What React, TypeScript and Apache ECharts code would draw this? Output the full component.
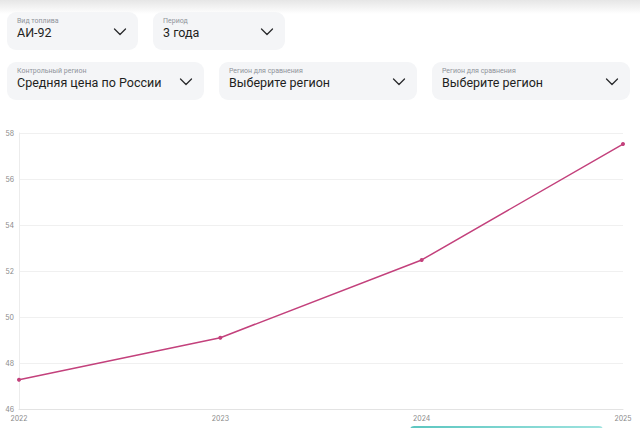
import React, { useEffect, useRef } from "react";
import * as echarts from "echarts";

const years = ["2022", "2023", "2024", "2025"];
const prices = [47.27, 49.1, 52.48, 57.52];
const yTicks = { min: 46, max: 58, interval: 2 };

const dropdowns = [
  { label: "Вид топлива", value: "АИ-92", left: 7, top: 12, width: 131 },
  { label: "Период", value: "3 года", left: 153, top: 12, width: 132 },
  { label: "Контрольный регион", value: "Средняя цена по России", left: 7, top: 62, width: 197 },
  { label: "Регион для сравнения", value: "Выберите регион", left: 219, top: 62, width: 198 },
  { label: "Регион для сравнения", value: "Выберите регион", left: 432, top: 62, width: 198 },
];

const FONT = "Inter, 'Noto Sans', sans-serif";
const VALUE_FONT = "Roboto, 'Noto Sans', sans-serif";

function Dropdown({ d }: { d: (typeof dropdowns)[number] }) {
  return (
    <div
      style={{
        position: "absolute",
        left: d.left,
        top: d.top,
        width: d.width,
        height: 38,
        background: "#f4f5f7",
        borderRadius: 9,
        fontFamily: FONT,
      }}
    >
      <div style={{ position: "absolute", left: 10, top: 5, fontSize: 7, fontFamily: VALUE_FONT, color: "#8f939a", lineHeight: "9px", whiteSpace: "nowrap" }}>
        {d.label}
      </div>
      <div style={{ position: "absolute", left: 10, top: 12, fontSize: 12.5, fontFamily: VALUE_FONT, color: "#1e1f22", lineHeight: "18px", whiteSpace: "nowrap" }}>
        {d.value}
      </div>
      <svg
        width={14}
        height={10}
        style={{ position: "absolute", right: 11, top: 15 }}
        viewBox="0 0 14 10"
      >
        <polyline points="1.5,2 7,7.5 12.5,2" fill="none" stroke="#2a2b2e" strokeWidth={1.3} strokeLinecap="round" strokeLinejoin="round" />
      </svg>
    </div>
  );
}

export default function App() {
  const ref = useRef<HTMLDivElement>(null);
  useEffect(() => {
    if (!ref.current) return;
    const chart = echarts.init(ref.current, undefined, { renderer: "svg" });
    chart.setOption({
      animation: false,
      grid: { left: 19, right: 17, top: 133, bottom: 19, containLabel: false },
      xAxis: {
        type: "category",
        data: years,
        boundaryGap: false,
        axisLine: { show: true, lineStyle: { color: "#e3e3e3" } },
        axisTick: { show: false },
        axisLabel: { color: "#8a8a8a", fontSize: 7, margin: 6, fontFamily: FONT },
        splitLine: { show: false },
      },
      yAxis: {
        type: "value",
        min: yTicks.min,
        max: yTicks.max,
        interval: yTicks.interval,
        axisLine: { show: true, lineStyle: { color: "#ececec" } },
        axisTick: { show: false },
        axisLabel: { color: "#8a8a8a", fontSize: 7, margin: 5, fontFamily: FONT },
        splitLine: { show: true, lineStyle: { color: "#f0f0f0" } },
      },
      series: [
        {
          type: "line",
          data: prices,
          symbol: "circle",
          symbolSize: 4,
          lineStyle: { color: "#c3417c", width: 1.5 },
          itemStyle: { color: "#c3417c" },
        },
      ],
    });
    return () => chart.dispose();
  }, []);

  return (
    <div style={{ position: "absolute", left: 0, top: 0, width: 640, height: 428, overflow: "hidden", background: "#fff" }}>
      <div
        style={{
          position: "absolute",
          left: 0,
          top: 0,
          width: 640,
          height: 14,
          background: "linear-gradient(#e6e6e6, rgba(255,255,255,0))",
        }}
      />
      {dropdowns.map((d, i) => (
        <Dropdown key={i} d={d} />
      ))}
      <div ref={ref} style={{ position: "absolute", left: 0, top: 0, width: 640, height: 428 }} />
      <div
        style={{
          position: "absolute",
          left: 410,
          top: 426,
          width: 193,
          height: 12,
          borderRadius: 4,
          background: "linear-gradient(90deg, #5cc6c0, #9ee3df)",
        }}
      />
    </div>
  );
}
